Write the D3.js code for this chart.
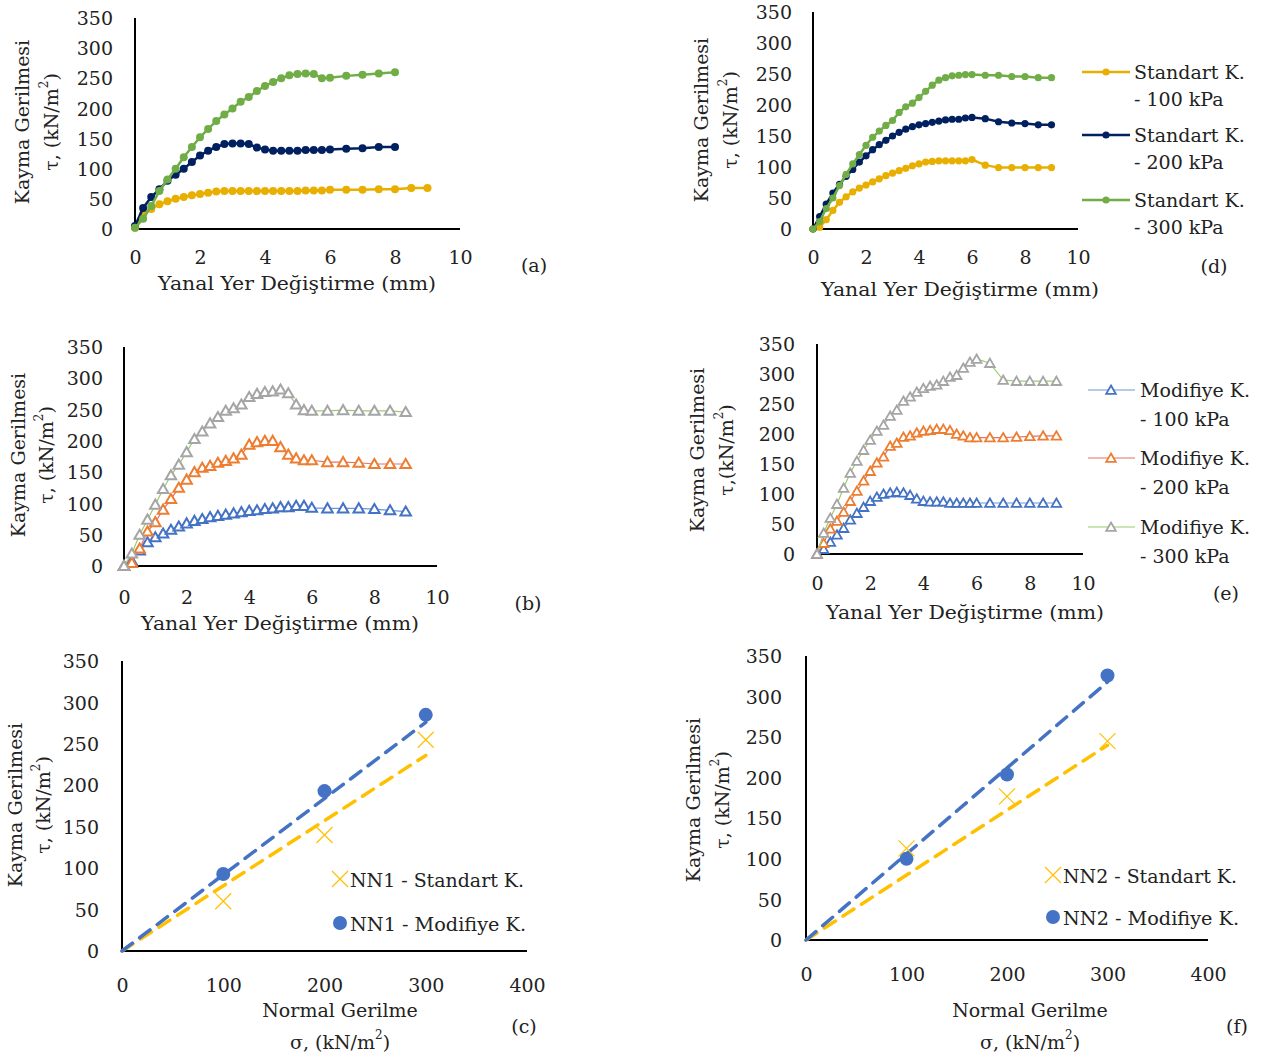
<!DOCTYPE html>
<html><head><meta charset="utf-8">
<script src="https://cdn.jsdelivr.net/npm/d3@7"></script>
<style>body{margin:0;background:#fff}svg text{font-family:"DejaVu Serif","Liberation Serif",serif;fill:#222}</style>
</head><body>
<svg id="c" width="1265" height="1057"></svg>
<script>
// ---------- DATA ----------
const xFine = [0,0.25,0.5,0.75,1,1.25,1.5,1.75,2,2.25,2.5,2.75,3,3.25,3.5,3.75,4,4.25,4.5,4.75,5,5.25,5.5,5.75,6,6.5,7,7.5,8,8.5,9];
const xTo8  = xFine.slice(0,29);

// (a) NN1 Standart K.
const a100 = [2,25,33,41,46,50,53,56,58,60,62,63,63,63,63,63,63,63,63,63,63,64,64,64,65,65,65,66,66,68,68];
const a200 = [5,35,53,66,80,90,100,111,122,130,136,141,142,142,141,135,132,130,130,130,130,131,131,131,132,133,134,136,136];
const a300 = [2,17,38,63,82,100,119,136,152,166,179,190,200,211,219,229,237,244,250,255,257,258,257,250,251,254,256,258,260];

// (d) NN2 Standart K.
const d100 = [0,3,15,30,43,52,60,66,71,76,81,86,90,94,98,102,105,108,109,110,110,110,110,110,112,103,99,99,99,99,99];
const d200 = [0,20,40,58,72,85,96,108,118,128,136,143,150,156,161,165,168,170,172,174,176,177,177,179,180,178,173,171,170,168,168];
const d300 = [0,12,33,50,70,88,105,120,135,148,158,167,175,188,197,203,212,222,232,240,244,247,248,249,249,248,248,246,246,244,244];

// (b) NN1 Modifiye K.
const b100 = [0,8,25,38,46,52,58,63,68,72,75,78,80,82,84,86,88,89,91,92,94,94,96,96,93,92,92,92,91,89,87];
const b200 = [0,5,28,55,70,90,107,125,138,150,157,160,165,168,172,178,194,198,200,200,190,178,172,169,169,166,166,165,163,163,163];
const b300 = [0,20,50,74,98,123,145,162,182,203,215,228,238,248,252,258,270,275,278,279,282,276,258,249,248,248,249,248,248,248,246];

// (e) NN2 Modifiye K.
const e100 = [0,8,20,32,43,57,68,78,88,95,100,102,103,102,98,92,88,87,87,87,85,85,85,85,85,85,85,85,85,85,85];
const e200 = [0,18,42,55,70,88,105,122,138,152,162,180,185,195,197,202,205,206,208,208,206,200,197,194,194,194,194,195,196,197,197];
const e300 = [0,35,60,83,110,135,155,173,190,205,215,230,240,255,262,270,276,280,282,288,295,298,310,320,325,318,290,288,288,288,288];

// (c), (f) failure envelopes
const sigma = [100,200,300];
const cStd = [60,140,255], cMod = [93,193,285];
const fStd = [113,177,245], fMod = [100,204,326];
const trendX = [0,300];
const cStdTrend = [0,236], cModTrend = [0,276];
const fStdTrend = [0,240], fModTrend = [0,318];

const yTicks = [0,50,100,150,200,250,300,350];
const xTicksDisp = [0,2,4,6,8,10];
const xTicksSig = [0,100,200,300,400];
const stdNames = ["Standart K.","Standart K.","Standart K."];
const modNames = ["Modifiye K.","Modifiye K.","Modifiye K."];
const loadNames = ["- 100 kPa","- 200 kPa","- 300 kPa"];

// ---------- DRAW ----------
const svg = d3.select("#c");
const FS = 19;
const SUP = 12;

function sup(t, pre){
  t.append("tspan").text(pre);
  t.append("tspan").attr("font-size",SUP).attr("dy",-7).text("2");
  t.append("tspan").attr("dy",7).text(")");
}

function yTitle(g, x1, x2, cy, second){
  g.append("text").attr("transform",`translate(${x1},${cy}) rotate(-90)`)
    .attr("text-anchor","middle").attr("dominant-baseline","central").attr("font-size",FS).text("Kayma Gerilmesi");
  const t = g.append("text").attr("transform",`translate(${x2},${cy}) rotate(-90)`)
    .attr("text-anchor","middle").attr("dominant-baseline","central").attr("font-size",FS);
  sup(t, second);
}

function panel(cfg){
  const g = svg.append("g");
  const x = d3.scaleLinear().domain(cfg.xd).range([cfg.x0,cfg.x1]);
  const y = d3.scaleLinear().domain([0,350]).range([cfg.yb,cfg.yt]);
  const ya = d3.axisLeft(y).tickValues(yTicks).tickSize(0).tickPadding(cfg.yPad);
  g.append("g").attr("transform",`translate(${cfg.x0},0)`).call(ya)
    .call(s=>{s.select(".domain").remove();s.selectAll("text").attr("font-size",FS).attr("font-family",null).attr("fill","#222").attr("dy","0.35em");});
  const xa = d3.axisBottom(x).tickValues(cfg.xt).tickSize(0).tickPadding(cfg.xPad);
  g.append("g").attr("transform",`translate(0,${cfg.yb})`).call(xa)
    .call(s=>{s.select(".domain").remove();s.selectAll("text").attr("font-size",FS).attr("font-family",null).attr("fill","#222").attr("dy","0.35em");});
  g.append("line").attr("x1",cfg.x0).attr("x2",cfg.x0).attr("y1",cfg.yt).attr("y2",cfg.yb).attr("stroke","#000").attr("stroke-width",2);
  g.append("line").attr("x1",cfg.x0).attr("x2",cfg.x1).attr("y1",cfg.yb).attr("y2",cfg.yb).attr("stroke","#000").attr("stroke-width",2);
  return {g,x,y};
}

function dispTitles(g, cx, ty, lab, lx, ly){
  g.append("text").attr("x",cx-139).attr("y",ty).attr("dominant-baseline","central").attr("font-size",FS)
    .attr("textLength",278).attr("lengthAdjust","spacingAndGlyphs").text("Yanal Yer Değiştirme (mm)");
  g.append("text").attr("x",lx).attr("y",ly).attr("text-anchor","middle").attr("dominant-baseline","central").attr("font-size",FS).text(lab);
}

let cfgR = 4;
function circleSeries(p, xs, ys, color){
  const pts = ys.map((v,i)=>[xs[i],v]);
  p.g.append("path").attr("d",d3.line().x(d=>p.x(d[0])).y(d=>p.y(d[1]))(pts))
    .attr("fill","none").attr("stroke",color).attr("stroke-width",2.5);
  p.g.selectAll(null).data(pts).join("circle").attr("cx",d=>p.x(d[0])).attr("cy",d=>p.y(d[1])).attr("r",cfgR).attr("fill",color);
}
function triSeries(p, xs, ys, color, lineColor, size, sw){
  const pts = ys.map((v,i)=>[xs[i],v]);
  p.g.append("path").attr("d",d3.line().x(d=>p.x(d[0])).y(d=>p.y(d[1]))(pts))
    .attr("fill","none").attr("stroke",lineColor).attr("stroke-width",1.2);
  const sym = d3.symbol(d3.symbolTriangle, size)();
  p.g.selectAll(null).data(pts).join("path").attr("d",sym)
    .attr("transform",d=>`translate(${p.x(d[0])},${p.y(d[1])+1})`)
    .attr("fill","#fff").attr("stroke",color).attr("stroke-width",sw);
}

const cY = "#E8AE00", cN = "#002060", cG = "#70AD47";
const tB = "#4472C4", tO = "#ED7D31", tGr = "#A5A5A5";
const lB = "#6A98D8", lO = "#E0736A", lGr = "#9ACB6E";

// (a)
let pa = panel({x0:135,x1:460,yb:229,yt:18,xd:[0,10],xt:xTicksDisp,yPad:22,xPad:28});
yTitle(pa.g,22,51,122,"τ, (kN/m");
dispTitles(pa.g,297,283,"(a)",534,265);
cfgR = 4;
circleSeries(pa,xFine,a100,cY);
circleSeries(pa,xTo8,a200,cN);
circleSeries(pa,xTo8,a300,cG);

// (d)
let pd = panel({x0:813,x1:1078,yb:229,yt:12,xd:[0,10],xt:xTicksDisp,yPad:21,xPad:28});
yTitle(pd.g,701,730,120,"τ, (kN/m");
dispTitles(pd.g,960,289,"(d)",1214,266);
cfgR = 3.6;
circleSeries(pd,xFine,d100,cY);
circleSeries(pd,xFine,d200,cN);
circleSeries(pd,xFine,d300,cG);
[cY,cN,cG].forEach((c,i)=>{
  const yy = [72,135,200][i];
  pd.g.append("line").attr("x1",1082).attr("x2",1130).attr("y1",yy).attr("y2",yy).attr("stroke",c).attr("stroke-width",2.5);
  pd.g.append("circle").attr("cx",1106).attr("cy",yy).attr("r",3.6).attr("fill",c);
  pd.g.append("text").attr("x",1134).attr("y",yy).attr("dominant-baseline","central").attr("font-size",FS).text(stdNames[i]);
  pd.g.append("text").attr("x",1134).attr("y",yy+27).attr("dominant-baseline","central").attr("font-size",FS).text(loadNames[i]);
});

// (b)
let pb = panel({x0:124,x1:437,yb:566,yt:347,xd:[0,10],xt:xTicksDisp,yPad:21,xPad:31});
yTitle(pb.g,18,46,455,"τ, (kN/m");
dispTitles(pb.g,280,623,"(b)",528,603);
triSeries(pb,xFine,b100,tB,lB,48,2);
triSeries(pb,xFine,b200,tO,lO,48,2);
triSeries(pb,xFine,b300,tGr,lGr,48,2);

// (e)
let pe = panel({x0:817,x1:1083,yb:554,yt:344,xd:[0,10],xt:xTicksDisp,yPad:22,xPad:29});
yTitle(pe.g,697,726,450,"τ,(kN/m");
dispTitles(pe.g,965,612,"(e)",1226,593);
triSeries(pe,xFine,e100,tB,lB,40,1.8);
triSeries(pe,xFine,e200,tO,lO,40,1.8);
triSeries(pe,xFine,e300,tGr,lGr,40,1.8);
[[tB,lB],[tO,lO],[tGr,lGr]].forEach((c,i)=>{
  const yy = [390,458,527][i];
  pe.g.append("line").attr("x1",1088).attr("x2",1135).attr("y1",yy).attr("y2",yy).attr("stroke",c[1]).attr("stroke-width",1.2);
  pe.g.append("path").attr("d",d3.symbol(d3.symbolTriangle,40)()).attr("transform",`translate(1111,${yy+1})`).attr("fill","#fff").attr("stroke",c[0]).attr("stroke-width",1.8);
  pe.g.append("text").attr("x",1140).attr("y",yy).attr("dominant-baseline","central").attr("font-size",FS).text(modNames[i]);
  pe.g.append("text").attr("x",1140).attr("y",yy+29).attr("dominant-baseline","central").attr("font-size",FS).text(loadNames[i]);
});

// scatter panels
const sY = "#FFC000";
function envelope(p, stdV, modV, stdT, modT, nn, lx, ly1, ly2, tx, ty1, ty2, lab, lbx){
  const line = d3.line().x((d,i)=>p.x(trendX[i])).y(d=>p.y(d));
  p.g.append("path").attr("d",line(stdT)).attr("fill","none").attr("stroke",sY).attr("stroke-width",3.5).attr("stroke-dasharray","13 9").attr("stroke-linecap","round");
  p.g.append("path").attr("d",line(modT)).attr("fill","none").attr("stroke",tB).attr("stroke-width",3.5).attr("stroke-dasharray","13 9").attr("stroke-linecap","round");
  const cross = (g,cx,cy)=>{
    g.append("path").attr("d",`M${cx-8},${cy-8}L${cx+8},${cy+8}M${cx-8},${cy+8}L${cx+8},${cy-8}`).attr("stroke",sY).attr("stroke-width",1.2).attr("fill","none");
  };
  stdV.forEach((v,i)=>cross(p.g,p.x(sigma[i]),p.y(v)));
  p.g.selectAll(null).data(modV).join("circle").attr("cx",(d,i)=>p.x(sigma[i])).attr("cy",d=>p.y(d)).attr("r",7).attr("fill",tB);
  cross(p.g,lx,ly1);
  p.g.append("circle").attr("cx",lx).attr("cy",ly2).attr("r",7).attr("fill",tB);
  p.g.append("text").attr("x",lx+10).attr("y",ly1+1).attr("dominant-baseline","central").attr("font-size",FS).attr("textLength",174).attr("lengthAdjust","spacingAndGlyphs").text(nn+" - Standart K.");
  p.g.append("text").attr("x",lx+10).attr("y",ly2+1).attr("dominant-baseline","central").attr("font-size",FS).attr("textLength",176).attr("lengthAdjust","spacingAndGlyphs").text(nn+" - Modifiye K.");
  p.g.append("text").attr("x",tx).attr("y",ty1).attr("text-anchor","middle").attr("dominant-baseline","central").attr("font-size",FS).text("Normal Gerilme");
  const t = p.g.append("text").attr("x",tx).attr("y",ty2).attr("text-anchor","middle").attr("dominant-baseline","central").attr("font-size",FS);
  sup(t,"σ, (kN/m");
  p.g.append("text").attr("x",lbx).attr("y",1026).attr("text-anchor","middle").attr("dominant-baseline","central").attr("font-size",FS).text(lab);
}

// (c)
let pc = panel({x0:122,x1:527,yb:951,yt:661,xd:[0,400],xt:xTicksSig,yPad:23,xPad:34});
yTitle(pc.g,15,43,805,"τ, (kN/m");
envelope(pc,cStd,cMod,cStdTrend,cModTrend,"NN1",340,879,923,340,1010,1042,"(c)",524);

// (f)
let pf = panel({x0:806,x1:1208,yb:940,yt:656,xd:[0,400],xt:xTicksSig,yPad:24,xPad:34});
yTitle(pf.g,693,722,800,"τ, (kN/m");
envelope(pf,fStd,fMod,fStdTrend,fModTrend,"NN2",1053,875,917,1030,1010,1042,"(f)",1237);
</script>
</body></html>
